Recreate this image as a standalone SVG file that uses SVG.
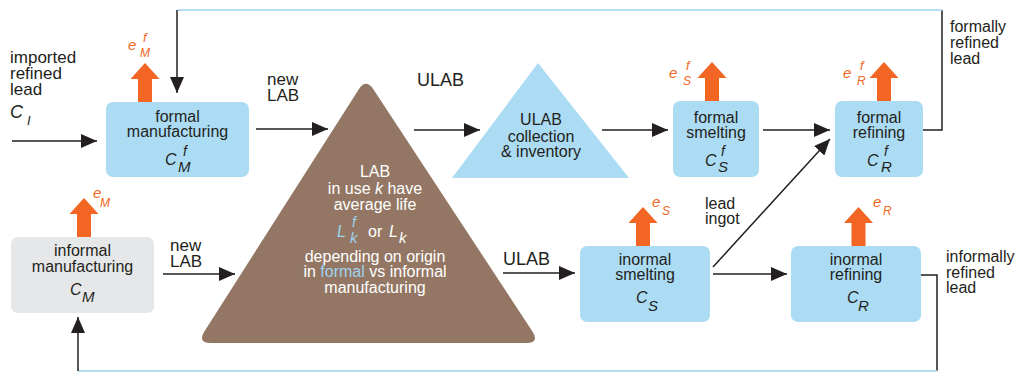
<svg xmlns="http://www.w3.org/2000/svg" width="1017" height="372" viewBox="0 0 1017 372">
  <style>
    text { font-family: "Liberation Sans", Arial, sans-serif; fill: #231f20; }
    .box { fill: #acdcf4; }
    .boxg { fill: #e6e7e8; }
    .t16 { font-size: 16px; }
    .t17 { font-size: 17px; }
    .t18 { font-size: 18px; }
    .mid { text-anchor: middle; }
    .it { font-style: italic; }
    .emt { fill: #f26522; font-style: italic; }
    .ln { fill: none; stroke: #231f20; stroke-width: 1.5; }
    .fb { fill: none; stroke: #b5def3; stroke-width: 1.8; }
    .wt { fill: #ffffff; }
    .lb { fill: #9fd3ee; }
  </style>
  <defs>
    <marker id="ah" viewBox="0 0 16 14" refX="16" refY="7" markerWidth="16" markerHeight="14" markerUnits="userSpaceOnUse" orient="auto">
      <path d="M0,0 L16,7 L0,14 Z" fill="#231f20"/>
    </marker>
    <!-- emission arrow, origin at the top centre of a box -->
    <path id="emit" d="M-7,0 V-23 H-14.5 L0,-39 L14.5,-23 H7 V0 Z" fill="#f26522"/>
  </defs>

  <!-- connectors -->
  <g id="connectors">
    <path class="ln" d="M12,141 H97" marker-end="url(#ah)"/>
    <path class="ln" d="M256,129 H328" marker-end="url(#ah)"/>
    <path class="ln" d="M414,130 H480" marker-end="url(#ah)"/>
    <path class="ln" d="M602,130 H668" marker-end="url(#ah)"/>
    <path class="ln" d="M763,130 H830" marker-end="url(#ah)"/>
    <path class="ln" d="M713,267 L830,139" marker-end="url(#ah)"/>
    <path class="ln" d="M923,130 H942 V10"/>
    <path class="fb" d="M942,10 H177"/>
    <path class="ln" d="M177,10 V93" marker-end="url(#ah)"/>
    <path class="ln" d="M163,274 H235" marker-end="url(#ah)"/>
    <path class="ln" d="M503,273 H575" marker-end="url(#ah)"/>
    <path class="ln" d="M713,274 H787" marker-end="url(#ah)"/>
    <path class="ln" d="M921,275 H937 V371"/>
    <path class="fb" d="M937,371 H78"/>
    <path class="ln" d="M78,371 V317" marker-end="url(#ah)"/>
  </g>

  <!-- connector labels -->
  <g id="labels" class="t17">
    <text x="10" y="63">imported</text>
    <text x="10" y="79">refined</text>
    <text x="10" y="95">lead</text>
    <text x="10" y="118" class="it" font-size="18">C</text>
    <text x="27" y="125" class="it" font-size="13">I</text>
    <text x="267" y="85">new</text>
    <text x="267" y="101">LAB</text>
    <text x="417" y="86" class="t18">ULAB</text>
    <text x="170" y="251">new</text>
    <text x="170" y="267">LAB</text>
    <text x="503" y="265" class="t18">ULAB</text>
    <text x="705" y="209" class="t16">lead</text>
    <text x="705" y="224" class="t16">ingot</text>
    <text x="950" y="32" class="t16">formally</text>
    <text x="950" y="48" class="t16">refined</text>
    <text x="950" y="64" class="t16">lead</text>
    <text x="946" y="262" class="t16">informally</text>
    <text x="946" y="278" class="t16">refined</text>
    <text x="946" y="293" class="t16">lead</text>
  </g>

  <!-- formal manufacturing -->
  <g id="formal-manufacturing">
    <use href="#emit" x="145" y="102"/>
    <text x="128" y="50" class="emt" font-size="15">e</text>
    <text x="143" y="42" class="emt" font-size="13">f</text>
    <text x="140" y="57" class="emt" font-size="12">M</text>
    <rect class="box" x="106" y="102" width="143" height="75" rx="7"/>
    <text x="177.5" y="122" class="t16 mid">formal</text>
    <text x="177.5" y="137" class="t16 mid">manufacturing</text>
    <text x="165" y="165" class="it" font-size="16">C</text>
    <text x="183" y="156" class="it" font-size="14">f</text>
    <text x="178" y="172" class="it" font-size="15">M</text>
  </g>

  <!-- informal manufacturing -->
  <g id="informal-manufacturing">
    <use href="#emit" x="84" y="237"/>
    <text x="93" y="198" class="emt" font-size="15">e</text>
    <text x="100" y="207" class="emt" font-size="12">M</text>
    <rect class="boxg" x="11" y="237" width="143" height="76" rx="7"/>
    <text x="82.5" y="256" class="t16 mid">informal</text>
    <text x="82.5" y="272" class="t16 mid">manufacturing</text>
    <text x="70" y="295" class="it" font-size="16">C</text>
    <text x="82" y="302" class="it" font-size="15">M</text>
  </g>

  <!-- batteries in use -->
  <g id="lab-in-use">
    <path d="M211,343 L526,343 Q540,343 532.3,331.3 L373.7,89.7 Q366,78 358.5,89.8 L204.5,331.2 Q197,343 211,343 Z" fill="#937764"/>
    <text x="375" y="177" class="t16 mid wt">LAB</text>
    <text x="375" y="194" class="t16 mid wt">in use <tspan class="it wt">k</tspan> have</text>
    <text x="375" y="210" class="t16 mid wt">average life</text>
    <text x="337" y="237" class="it lb" font-size="16">L</text>
    <text x="352" y="227" class="it lb" font-size="14">f</text>
    <text x="350" y="243" class="it lb" font-size="15">k</text>
    <text x="368" y="237" class="t16 wt">or</text>
    <text x="389" y="237" class="it wt" font-size="16">L</text>
    <text x="399" y="243" class="it wt" font-size="15">k</text>
    <text x="375" y="262" class="t16 mid wt">depending on origin</text>
    <text x="375" y="277" class="t16 mid wt">in <tspan class="lb">formal</tspan> vs informal</text>
    <text x="375" y="293" class="t16 mid wt">manufacturing</text>
  </g>

  <!-- ULAB collection -->
  <g id="ulab-collection">
    <path d="M538,63 L629,178 L452,178 Z" fill="#acdcf4"/>
    <text x="541" y="125" class="t16 mid">ULAB</text>
    <text x="541" y="142" class="t16 mid">collection</text>
    <text x="541" y="157" class="t16 mid">&amp; inventory</text>
  </g>

  <!-- formal smelting -->
  <g id="formal-smelting">
    <use href="#emit" x="712" y="101"/>
    <text x="669" y="78" class="emt" font-size="15">e</text>
    <text x="686" y="70" class="emt" font-size="13">f</text>
    <text x="683" y="85" class="emt" font-size="12">S</text>
    <rect class="box" x="673" y="101" width="86" height="76" rx="7"/>
    <text x="716" y="123" class="t16 mid">formal</text>
    <text x="716" y="138" class="t16 mid">smelting</text>
    <text x="705" y="166" class="it" font-size="16">C</text>
    <text x="721" y="156" class="it" font-size="14">f</text>
    <text x="718" y="172" class="it" font-size="15">S</text>
  </g>

  <!-- formal refining -->
  <g id="formal-refining">
    <use href="#emit" x="884" y="101"/>
    <text x="843" y="78" class="emt" font-size="15">e</text>
    <text x="860" y="70" class="emt" font-size="13">f</text>
    <text x="857" y="85" class="emt" font-size="12">R</text>
    <rect class="box" x="835" y="101" width="88" height="76" rx="7"/>
    <text x="879" y="123" class="t16 mid">formal</text>
    <text x="879" y="138" class="t16 mid">refining</text>
    <text x="867" y="166" class="it" font-size="16">C</text>
    <text x="884" y="156" class="it" font-size="14">f</text>
    <text x="881" y="172" class="it" font-size="15">R</text>
  </g>

  <!-- informal smelting -->
  <g id="informal-smelting">
    <use href="#emit" x="643" y="246"/>
    <text x="652" y="207" class="emt" font-size="15">e</text>
    <text x="662" y="215" class="emt" font-size="12">S</text>
    <rect class="box" x="580" y="246" width="130" height="76" rx="7"/>
    <text x="645" y="265" class="t16 mid">inormal</text>
    <text x="645" y="280" class="t16 mid">smelting</text>
    <text x="636" y="303" class="it" font-size="16">C</text>
    <text x="648" y="311" class="it" font-size="15">S</text>
  </g>

  <!-- informal refining -->
  <g id="informal-refining">
    <use href="#emit" x="858.5" y="246"/>
    <text x="873" y="207" class="emt" font-size="15">e</text>
    <text x="883" y="215" class="emt" font-size="12">R</text>
    <rect class="box" x="791" y="246" width="130" height="76" rx="7"/>
    <text x="856" y="265" class="t16 mid">inormal</text>
    <text x="856" y="280" class="t16 mid">refining</text>
    <text x="847" y="303" class="it" font-size="16">C</text>
    <text x="858" y="311" class="it" font-size="15">R</text>
  </g>
</svg>
